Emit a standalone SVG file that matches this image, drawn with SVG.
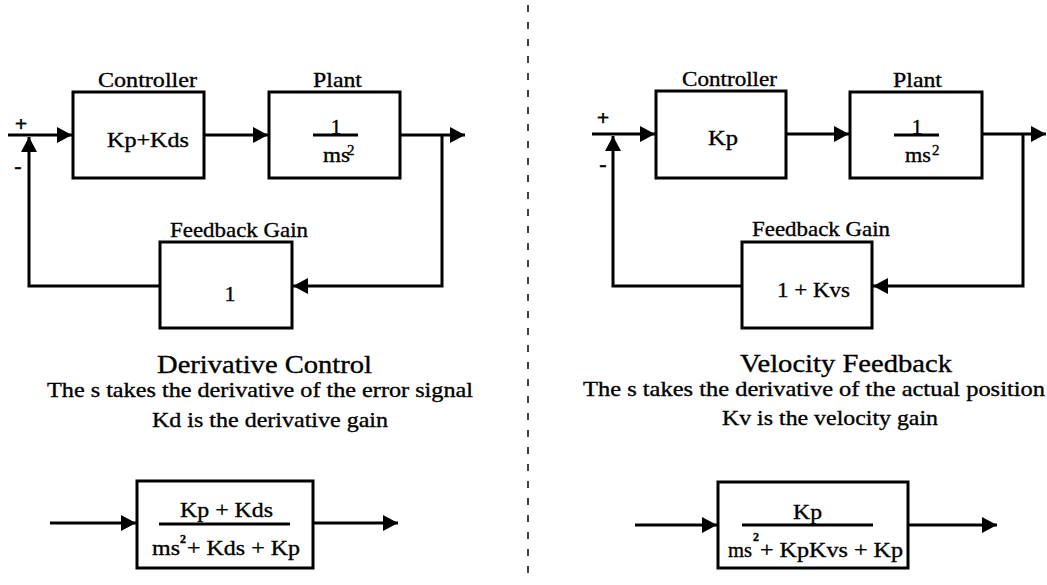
<svg xmlns="http://www.w3.org/2000/svg" width="1047" height="585" viewBox="0 0 1047 585">
<defs>
<style>
.box{fill:#fff;stroke:#000;stroke-width:3}
.ln{fill:none;stroke:#000;stroke-width:3}
.arr{marker-end:url(#ah)}
.txt text{fill:#000;stroke:#000;stroke-width:0.35;font-size:22px}
.txt .t{font-size:26px}
.txt .sup{font-size:15px}
.txt .sup2{font-size:12px;font-weight:bold}
.txt .sg{font-size:22px;font-weight:bold}
</style>
<marker id="ah" markerUnits="userSpaceOnUse" markerWidth="16" markerHeight="16" refX="15" refY="8" orient="auto">
<path d="M0,0 L15,8 L0,16 z" fill="#000"/>
</marker>
</defs>
<rect width="1047" height="585" fill="#fff"/>

<g id="connectors">
<path class="ln arr" d="M8,135 H72"/>
<path class="ln arr" d="M204,135 H268"/>
<path class="ln arr" d="M400,135 H465"/>
<path class="ln arr" d="M442,135 V286 H293"/>
<path class="ln arr" d="M160,286 H29 V137"/>
<path class="ln arr" d="M50,523 H136"/>
<path class="ln arr" d="M313,523 H398"/>
<path class="ln arr" d="M592,134 H655"/>
<path class="ln arr" d="M786,134 H849"/>
<path class="ln arr" d="M982,134 H1046"/>
<path class="ln arr" d="M1023,134 V286 H873"/>
<path class="ln arr" d="M742,286 H613 V136"/>
<path class="ln arr" d="M635,525 H717"/>
<path class="ln arr" d="M908,525 H997"/>
<path d="M528,5 V582" fill="none" stroke="#000" stroke-width="1.5" stroke-dasharray="7 10"/>
</g>

<g class="txt" font-family="'Liberation Serif', 'Times New Roman', 'DejaVu Serif', serif">

<g id="left-signs">
<text class="sg" x="21" y="131" text-anchor="middle">+</text>
<text class="sg" x="18" y="173" text-anchor="middle">-</text>
</g>

<g id="left-controller">
<text x="98" y="87" textLength="99" lengthAdjust="spacingAndGlyphs">Controller</text>
<rect class="box" x="73" y="92" width="131" height="86"/>
<text x="107" y="147" textLength="82" lengthAdjust="spacingAndGlyphs">Kp+Kds</text>
</g>

<g id="left-plant">
<text x="313" y="87" textLength="49" lengthAdjust="spacingAndGlyphs">Plant</text>
<rect class="box" x="269" y="92" width="131" height="86"/>
<text x="336" y="134" text-anchor="middle">1</text>
<path class="ln" d="M313,135 H358"/>
<text x="323" y="162" textLength="27" lengthAdjust="spacingAndGlyphs">ms</text>
<text class="sup" x="347" y="155">2</text>
</g>

<g id="left-feedback">
<text x="170" y="237" textLength="138" lengthAdjust="spacingAndGlyphs">Feedback Gain</text>
<rect class="box" x="160" y="242" width="132" height="86"/>
<text x="230" y="301" text-anchor="middle">1</text>
</g>

<g id="left-caption">
<text class="t" x="157" y="373" textLength="215" lengthAdjust="spacingAndGlyphs">Derivative Control</text>
<text x="47" y="397" textLength="426" lengthAdjust="spacingAndGlyphs">The s takes the derivative of the error signal</text>
<text x="152" y="427" textLength="236" lengthAdjust="spacingAndGlyphs">Kd is the derivative gain</text>
</g>

<g id="left-closed-loop">
<rect class="box" x="137" y="481" width="176" height="87"/>
<text x="180" y="517" textLength="93" lengthAdjust="spacingAndGlyphs">Kp + Kds</text>
<path class="ln" d="M159,524 H290"/>
<text x="152" y="555" textLength="28" lengthAdjust="spacingAndGlyphs">ms</text>
<text class="sup2" x="180" y="543">2</text>
<text x="187" y="555" textLength="113" lengthAdjust="spacingAndGlyphs">+ Kds + Kp</text>
</g>

<g id="right-signs">
<text class="sg" x="603" y="125" text-anchor="middle">+</text>
<text class="sg" x="603" y="171" text-anchor="middle">-</text>
</g>

<g id="right-controller">
<text x="682" y="86" textLength="95" lengthAdjust="spacingAndGlyphs">Controller</text>
<rect class="box" x="656" y="91" width="130" height="87"/>
<text x="708" y="145" textLength="30" lengthAdjust="spacingAndGlyphs">Kp</text>
</g>

<g id="right-plant">
<text x="893" y="87" textLength="49" lengthAdjust="spacingAndGlyphs">Plant</text>
<rect class="box" x="850" y="92" width="132" height="86"/>
<text x="917" y="134" text-anchor="middle">1</text>
<path class="ln" d="M894,135 H939"/>
<text x="905" y="162" textLength="26" lengthAdjust="spacingAndGlyphs">ms</text>
<text class="sup" x="932" y="155">2</text>
</g>

<g id="right-feedback">
<text x="752" y="236" textLength="138" lengthAdjust="spacingAndGlyphs">Feedback Gain</text>
<rect class="box" x="742" y="242" width="130" height="86"/>
<text x="777" y="297" textLength="73" lengthAdjust="spacingAndGlyphs">1 + Kvs</text>
</g>

<g id="right-caption">
<text class="t" x="740" y="372" textLength="212" lengthAdjust="spacingAndGlyphs">Velocity Feedback</text>
<text x="583" y="396" textLength="462" lengthAdjust="spacingAndGlyphs">The s takes the derivative of the actual position</text>
<text x="722" y="425" textLength="216" lengthAdjust="spacingAndGlyphs">Kv is the velocity gain</text>
</g>

<g id="right-closed-loop">
<rect class="box" x="718" y="482" width="190" height="86"/>
<text x="793" y="519" textLength="29" lengthAdjust="spacingAndGlyphs">Kp</text>
<path class="ln" d="M742,525 H873"/>
<text x="728" y="557" textLength="24" lengthAdjust="spacingAndGlyphs">ms</text>
<text class="sup2" x="753" y="541">2</text>
<text x="760" y="557" textLength="143" lengthAdjust="spacingAndGlyphs">+ KpKvs + Kp</text>
</g>

</g>
</svg>
